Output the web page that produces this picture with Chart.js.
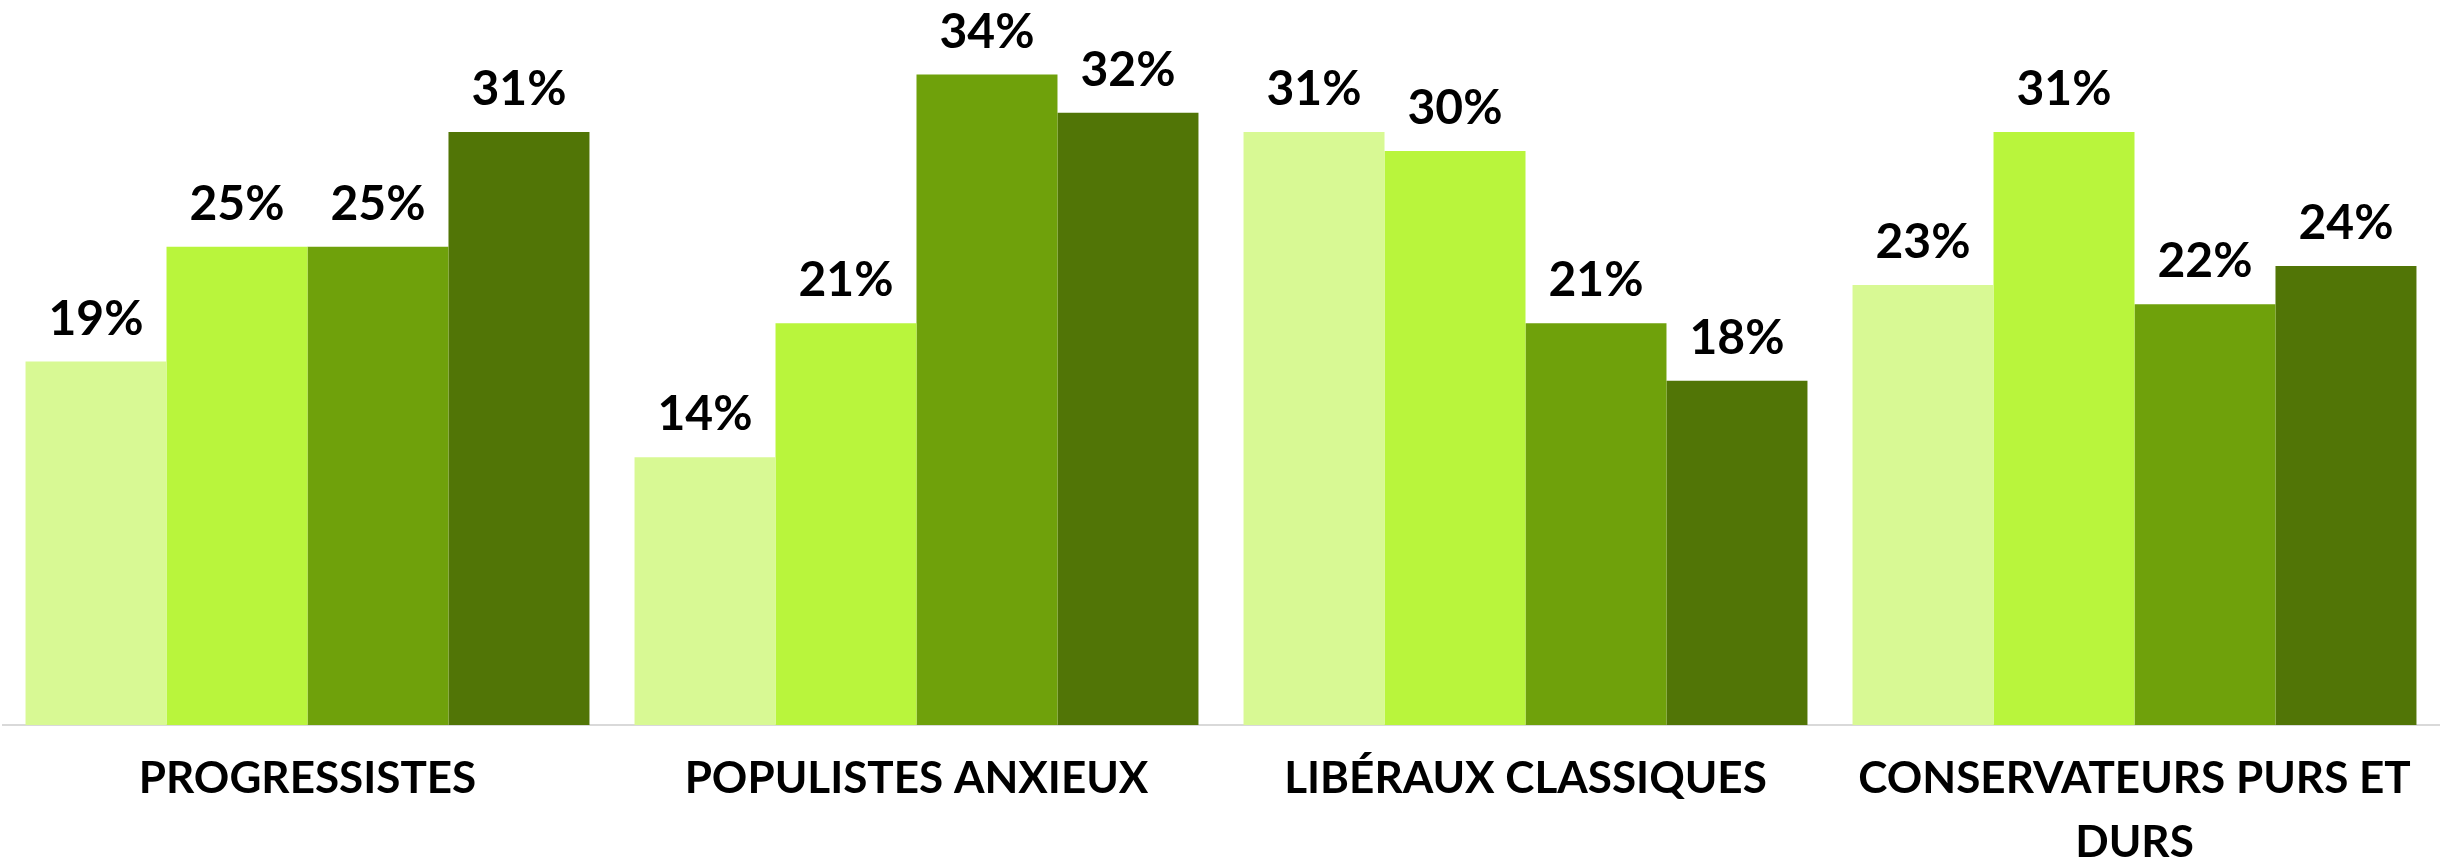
<!DOCTYPE html>
<html>
<head>
<meta charset="utf-8">
<script src="https://cdn.jsdelivr.net/npm/chart.js@4.4.1/dist/chart.umd.min.js"></script>
<style>
  html, body { margin: 0; padding: 0; background: #fff; }
  #wrap { width: 2443px; height: 858px; position: relative; }
</style>
</head>
<body>
<div id="wrap"><canvas id="chart"></canvas></div>
<script>
const categories = ["PROGRESSISTES", "POPULISTES ANXIEUX", "LIBÉRAUX CLASSIQUES", "CONSERVATEURS PURS ET DURS"];
const seriesA = [19, 14, 31, 23];
const seriesB = [25, 21, 30, 31];
const seriesC = [25, 34, 21, 22];
const seriesD = [31, 32, 18, 24];
const colors = ["#d8f994", "#b9f53c", "#6fa10b", "#517506"];

// wrap long category names onto two lines
function wrapLabel(text, maxChars) {
  const words = text.split(" ");
  const lines = [];
  let line = "";
  for (const w of words) {
    if (line && (line + " " + w).length > maxChars) {
      lines.push(line);
      line = w;
    } else {
      line = line ? line + " " + w : w;
    }
  }
  if (line) lines.push(line);
  return lines;
}

const valueLabels = {
  id: "valueLabels",
  afterDatasetsDraw(chart) {
    const ctx = chart.ctx;
    ctx.save();
    ctx.font = "bold 48px Lato";
    ctx.fillStyle = "#000";
    ctx.textAlign = "center";
    ctx.textBaseline = "alphabetic";
    chart.data.datasets.forEach((ds, i) => {
      chart.getDatasetMeta(i).data.forEach((bar, j) => {
        ctx.fillText(ds.data[j] + "%", bar.x, bar.y - 27);
      });
    });
    ctx.restore();
  },
};

const data = {
  labels: categories,
  datasets: [seriesA, seriesB, seriesC, seriesD].map((values, i) => ({
    data: values,
    backgroundColor: colors[i],
    borderWidth: 0,
    barPercentage: 1,
    categoryPercentage: 0.926,
  })),
};

new Chart(document.getElementById("chart"), {
  type: "bar",
  data,
  plugins: [valueLabels],
  options: {
    responsive: true,
    maintainAspectRatio: false,
    animation: false,
    layout: { padding: { left: 3, right: 4, top: 0, bottom: 0 } },
    scales: {
      x: {
        grid: { display: false, drawTicks: false },
        border: { display: true, color: "#d9d9d9", width: 2 },
        ticks: {
          color: "#000",
          padding: 22,
          maxRotation: 0,
          autoSkip: false,
          font: { family: "Lato", weight: "bold", size: 44, lineHeight: 1.45 },
          callback: (v, i) => wrapLabel(categories[i], 22),
        },
        afterFit: (scale) => { scale.height = 133; },
      },
      y: {
        display: false,
        min: 0,
        max: 37.9,
      },
    },
    plugins: {
      legend: { display: false },
      tooltip: { enabled: false },
    },
  },
});
</script>
</body>
</html>
